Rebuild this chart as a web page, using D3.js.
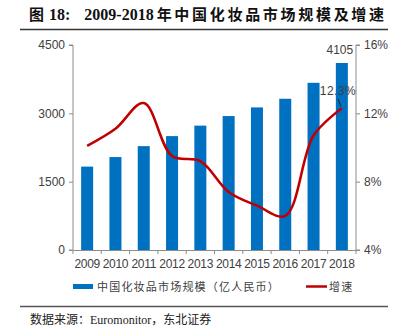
<!DOCTYPE html>
<html><head><meta charset="utf-8">
<script src="https://cdn.jsdelivr.net/npm/d3@7"></script>
<style>
body{margin:0;background:#fff;}
svg{display:block;}
</style></head>
<body>
<svg id="c" width="408" height="336"></svg>
<script>
const years = ["2009","2010","2011","2012","2013","2014","2015","2016","2017","2018"];
const marketSize = [1830, 2040, 2280, 2500, 2730, 2940, 3130, 3320, 3670, 4105];
const growth = [10.1, 11.1, 12.6, 9.5, 9.2, 7.4, 6.6, 6.0, 10.7, 12.3];
const leftTicks = [0, 1500, 3000, 4500];
const rightTicks = [4, 8, 12, 16];

const svg = d3.select("#c");
const L = 73, R = 356, T = 45, B = 250;
const band = d3.scaleBand().domain(years).range([L, R]);
const yL = d3.scaleLinear().domain([0, 4500]).range([B, T]);
const yR = d3.scaleLinear().domain([4, 16]).range([B, T]);
const axisColor = "#8c8c8c";
const textColor = "#404040";

// Title
svg.append("text").attr("x", 29).attr("y", 20)
  .attr("font-family", "'Liberation Serif','Noto Sans CJK SC',serif")
  .attr("font-weight", "bold").attr("font-size", 16).attr("fill", "#111")
  .html('<tspan font-family="Noto Sans CJK SC" font-size="15">图</tspan><tspan dx="5">18:</tspan><tspan dx="14">2009-2018</tspan><tspan dx="3" font-family="Noto Sans CJK SC" font-size="15" letter-spacing="2.7">年中国化妆品市场规模及增速</tspan>');
svg.append("line").attr("x1", 20).attr("x2", 388).attr("y1", 29.5).attr("y2", 29.5)
  .attr("stroke", "#333").attr("stroke-width", 1.5);

// bars
svg.append("g").selectAll("rect").data(years).join("rect")
  .attr("x", d => band(d) + band.bandwidth()/2 - 6)
  .attr("width", 12)
  .attr("y", (d,i) => yL(marketSize[i]))
  .attr("height", (d,i) => B - yL(marketSize[i]))
  .attr("fill", "#0070c0");

// axes
const gl = svg.append("g").attr("transform", `translate(${L},0)`)
  .call(d3.axisLeft(yL).tickValues(leftTicks).tickSize(4).tickPadding(4).tickFormat(d3.format("d")));
const gr = svg.append("g").attr("transform", `translate(${R},0)`)
  .call(d3.axisRight(yR).tickValues(rightTicks).tickSize(4).tickPadding(4).tickFormat(d => d + "%"));
const gb = svg.append("g").attr("transform", `translate(0,${B})`)
  .call(d3.axisBottom(band).tickSize(0).tickPadding(9));
// category separator ticks
svg.append("g").selectAll("line").data(years.concat(["end"])).join("line")
  .attr("x1", (d,i) => L + i*band.step()).attr("x2", (d,i) => L + i*band.step())
  .attr("y1", B).attr("y2", B + 4).attr("stroke", axisColor);
[gl, gr, gb].forEach(g => {
  g.selectAll("path.domain").attr("stroke", axisColor);
  g.selectAll(".tick line").attr("stroke", axisColor);
  g.selectAll("text").attr("font-family", "'Liberation Sans',Arial,sans-serif")
    .attr("font-size", 12).attr("fill", textColor);
});
gb.selectAll("text").attr("letter-spacing", -0.3);
gr.selectAll("path.domain").attr("d", `M4,${B}H0V${T}H4`);
gl.selectAll("path.domain").attr("d", `M-4,${T}H0V${B}H-4`);

// line
const line = d3.line()
  .x((d,i) => band(years[i]) + band.bandwidth()/2)
  .y(d => yR(d))
  .curve(d3.curveCatmullRom.alpha(0.5));
svg.append("path").datum(growth).attr("d", line)
  .attr("fill", "none").attr("stroke", "#c00000").attr("stroke-width", 2.5);

// labels
const lastX = band("2018") + band.bandwidth()/2;
svg.append("text").attr("x", lastX - 2).attr("y", 54).attr("text-anchor", "middle")
  .attr("font-family", "'Liberation Sans',Arial,sans-serif").attr("font-size", 12)
  .attr("fill", textColor).text(marketSize[9]);
svg.append("text").attr("x", 338).attr("y", 95).attr("text-anchor", "middle")
  .attr("font-family", "'Liberation Sans',Arial,sans-serif").attr("font-size", 12)
  .attr("fill", textColor).attr("letter-spacing", 0.5).text("12.3%");
svg.append("line").attr("x1", 338).attr("y1", 99).attr("x2", lastX - 1).attr("y2", yR(growth[9]) - 2)
  .attr("stroke", "#222").attr("stroke-width", 1);

// legend
svg.append("rect").attr("x", 73).attr("y", 284).attr("width", 20).attr("height", 5).attr("fill", "#0070c0");
svg.append("text").attr("x", 97).attr("y", 291)
  .attr("font-family", "'Noto Sans CJK SC',sans-serif").attr("font-size", 11)
  .attr("letter-spacing", 1.2).attr("fill", textColor).text("中国化妆品市场规模（亿人民币）");
svg.append("line").attr("x1", 306).attr("x2", 327).attr("y1", 286.5).attr("y2", 286.5)
  .attr("stroke", "#c00000").attr("stroke-width", 2.5);
svg.append("text").attr("x", 329).attr("y", 291)
  .attr("font-family", "'Noto Sans CJK SC',sans-serif").attr("font-size", 11)
  .attr("letter-spacing", 1.2).attr("fill", textColor).text("增速");

// footer
svg.append("line").attr("x1", 20).attr("x2", 388).attr("y1", 306.5).attr("y2", 306.5)
  .attr("stroke", "#555").attr("stroke-width", 1.5);
svg.append("text").attr("x", 30).attr("y", 324)
  .attr("font-family", "'Liberation Serif','Noto Sans CJK SC',serif").attr("font-size", 12)
  .attr("fill", "#222")
  .html('<tspan font-family="Noto Sans CJK SC">数据来源：</tspan>Euromonitor<tspan font-family="Noto Sans CJK SC">，东北证券</tspan>');
</script>
</body></html>
